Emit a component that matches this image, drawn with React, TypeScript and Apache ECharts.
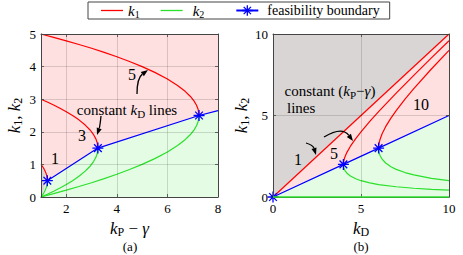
import React, { useEffect, useRef } from 'react';
import * as echarts from 'echarts';

type Pt = [number, number];

const SERIF = "'Liberation Serif', 'Times New Roman', serif";
const RED = '#ff0000';
const GREEN = '#2ae02a';
const BLUE = '#0000ff';
const PINK = '#ffe0e0';
const PALEGREEN = '#e3fce3';
const GREY = '#d9d5d5';
const FRAME = '#444444';
const GRIDLINE = 'rgba(0,0,0,0.14)';
const STAR = 'path://M5,0L5,10M0,5L10,5M1.5,1.5L8.5,8.5M1.5,8.5L8.5,1.5';
const LEGEND_LINE = 'path://M0,0H22V1.3H0Z';

// ---------- Panel (a): constant kD lines, x = kP − γ ----------
const aXTickValues = [2, 4, 6, 8];
const aK1_kD1: Pt[] = [[1, 1], [1.04, 0.958], [1.08, 0.912], [1.12, 0.861], [1.16, 0.8], [1.2, 0.724], [1.23, 0.641], [1.245, 0.571], [1.25, 0.5]];
const aK2_kD1: Pt[] = [[1, 0], [1.04, 0.042], [1.08, 0.088], [1.12, 0.139], [1.16, 0.2], [1.2, 0.276], [1.23, 0.359], [1.245, 0.429], [1.25, 0.5]];
const aK1_kD3: Pt[] = [[1, 3], [1.25, 2.914], [1.5, 2.823], [1.75, 2.725], [2, 2.618], [2.25, 2.5], [2.5, 2.366], [2.75, 2.207], [2.95, 2.048], [3.08, 1.912], [3.17, 1.783], [3.22, 1.673], [3.25, 1.5]];
const aK2_kD3: Pt[] = [[1, 0], [1.25, 0.086], [1.5, 0.177], [1.75, 0.275], [2, 0.382], [2.25, 0.5], [2.5, 0.634], [2.75, 0.793], [2.95, 0.952], [3.08, 1.088], [3.17, 1.217], [3.22, 1.327], [3.25, 1.5]];
const aK1_kD5: Pt[] = [[1, 5], [1.5, 4.898], [2, 4.791], [2.5, 4.679], [3, 4.562], [3.5, 4.436], [4, 4.303], [4.5, 4.158], [5, 4], [5.5, 3.823], [6, 3.618], [6.4, 3.422], [6.7, 3.242], [6.9, 3.092], [7.05, 2.947], [7.15, 2.816], [7.21, 2.7], [7.25, 2.5]];
const aK2_kD5: Pt[] = [[1, 0], [1.5, 0.102], [2, 0.209], [2.5, 0.321], [3, 0.438], [3.5, 0.564], [4, 0.697], [4.5, 0.842], [5, 1], [5.5, 1.177], [6, 1.382], [6.4, 1.578], [6.7, 1.758], [6.9, 1.908], [7.05, 2.053], [7.15, 2.184], [7.21, 2.3], [7.25, 2.5]];
const aBoundary: Pt[] = [[1.25, 0.5], [3.25, 1.5], [7.25, 2.5], [8, 2.65]];
const aBoundaryMarked = [true, true, true, false];
const aFillPink: Pt[] = [[1, 0], [8, 0], [8, 5], [1, 5]];
const aFillGreen: Pt[] = [[1, 0], [1.25, 0.5], [3.25, 1.5], [7.25, 2.5], [8, 2.65], [8, 0]];
const aFillGrey: Pt[] = [[1, 0], [1, 0.97], [1.05, 0.92], [1.1, 0.84], [1.15, 0.73], [1.17, 0.58], [1.16, 0.42], [1.12, 0.25], [1.06, 0.1]];

// ---------- Panel (b): constant (kP − γ) lines, x = kD ----------
const bK1_p1: Pt[] = [[0, 0], [10, 10]];
const bK2_p1: Pt[] = [[0, 0], [10, 0]];
const bK1_p5: Pt[] = [[4, 2], [4.02, 2.21], [4.08, 2.442], [4.2, 2.74], [4.4, 3.117], [4.7, 3.584], [5, 4], [5.5, 4.637], [6, 5.236], [7, 6.372], [8, 7.464], [9, 8.531], [10, 9.583]];
const bK2_p5: Pt[] = [[4, 2], [4.02, 1.81], [4.08, 1.638], [4.2, 1.46], [4.4, 1.284], [4.7, 1.116], [5, 1], [5.5, 0.863], [6, 0.764], [7, 0.628], [8, 0.536], [9, 0.469], [10, 0.417]];
const bK1_p10: Pt[] = [[6, 3], [6.02, 3.255], [6.08, 3.532], [6.2, 3.881], [6.4, 4.314], [6.7, 4.841], [7, 5.303], [7.5, 6], [8, 6.646], [9, 7.854], [10, 9]];
const bK2_p10: Pt[] = [[6, 3], [6.02, 2.765], [6.08, 2.549], [6.2, 2.319], [6.4, 2.087], [6.7, 1.859], [7, 1.697], [7.5, 1.5], [8, 1.354], [9, 1.146], [10, 1]];
const bBoundary: Pt[] = [[0, 0], [4, 2], [6, 3], [10, 5]];
const bBoundaryMarked = [true, true, true, false];
const bFillGrey: Pt[] = [[0, 0], [10, 10], [0, 10]];
const bFillPink: Pt[] = [[0, 0], [10, 10], [10, 5]];
const bFillGreen: Pt[] = [[0, 0], [10, 5], [10, 0]];

const legendNames = ['k1', 'k2', 'feasibility boundary'];

function richLabel(size: number) {
  const sub = Math.round(size * 0.7);
  return {
    i: { fontFamily: SERIF, fontStyle: 'italic', fontSize: size, lineHeight: size + 2, color: '#000' },
    n: { fontFamily: SERIF, fontSize: size, lineHeight: size + 2, color: '#000' },
    s: { fontFamily: SERIF, fontSize: sub, lineHeight: sub + 1, verticalAlign: 'bottom', color: '#000' },
  };
}
function richZr(size: number) {
  const sub = Math.round(size * 0.7);
  return {
    i: { fontFamily: SERIF, fontStyle: 'italic', fontSize: size, lineHeight: size + 4, fill: '#000' },
    n: { fontFamily: SERIF, fontSize: size, lineHeight: size + 4, fill: '#000' },
    s: { fontFamily: SERIF, fontSize: sub, lineHeight: sub + 1, verticalAlign: 'bottom', fill: '#000' },
  };
}

function lineSeries(name: string, data: Pt[], color: string, ai: number, extra: any = {}) {
  return {
    type: 'line', name, data, xAxisIndex: ai, yAxisIndex: ai,
    symbol: 'none', showSymbol: false, silent: true, z: 3,
    lineStyle: { color, width: 1.2 }, itemStyle: { color },
    ...extra,
  };
}
function boundarySeries(data: Pt[], marked: boolean[], ai: number) {
  return {
    type: 'line', name: 'feasibility boundary', xAxisIndex: ai, yAxisIndex: ai,
    data: data.map((p, i) => (marked[i] ? p : { value: p, symbol: 'none' })),
    symbol: STAR, symbolSize: 11, showSymbol: true, silent: true, z: 4,
    lineStyle: { color: BLUE, width: 1.2 },
    itemStyle: { color: BLUE, borderColor: BLUE, borderWidth: 1.3 },
  };
}
function fillSeries(poly: Pt[], color: string, ai: number) {
  return {
    type: 'custom', xAxisIndex: ai, yAxisIndex: ai, silent: true, z: 1,
    data: [poly[0]],
    renderItem: (_p: any, api: any) => ({
      type: 'polygon',
      shape: { points: poly.map((q) => api.coord(q)) },
      style: { fill: color },
    }),
  };
}

function xAxis(grid: number, pos: 'bottom' | 'top', min: number, max: number, opts: any) {
  const main = pos === 'bottom';
  return {
    type: 'value', gridIndex: grid, position: pos, min, max, z: 10,
    interval: opts.interval,
    axisLine: { show: true, onZero: false, lineStyle: { color: FRAME, width: 1 } },
    axisTick: { show: true, inside: true, length: 3, lineStyle: { color: FRAME, width: 0.8 }, customValues: opts.custom },
    axisLabel: { show: main, color: '#000', fontFamily: SERIF, fontSize: 13, margin: 5, customValues: opts.custom },
    splitLine: { show: main, lineStyle: { color: GRIDLINE, width: 1 } },
    name: main ? opts.name : undefined,
    nameLocation: 'middle', nameGap: 20,
    nameTextStyle: { fontFamily: SERIF, fontSize: 17, rich: richLabel(17) },
  };
}
function yAxis(grid: number, pos: 'left' | 'right', min: number, max: number, interval: number, opts: any) {
  const main = pos === 'left';
  return {
    type: 'value', gridIndex: grid, position: pos, min, max, interval, z: 10,
    axisLine: { show: true, onZero: false, lineStyle: { color: FRAME, width: 1 } },
    axisTick: { show: true, inside: true, length: 3, lineStyle: { color: FRAME, width: 0.8 } },
    axisLabel: { show: main, color: '#000', fontFamily: SERIF, fontSize: 13, margin: 5 },
    splitLine: { show: main, lineStyle: { color: GRIDLINE, width: 1 } },
    name: main ? '{i|k}{s|1}{n|, }{i|k}{s|2}' : undefined,
    nameLocation: 'middle', nameRotate: 90, nameGap: opts.nameGap,
    nameTextStyle: { fontFamily: SERIF, fontSize: 17, rich: richLabel(17) },
  };
}

function txt(x: number, y: number, text: string, size: number, align = 'center') {
  return {
    type: 'text', x, y, silent: true, z: 50,
    style: {
      text, fontFamily: SERIF, fontSize: size, fill: '#000',
      align, verticalAlign: 'middle', textAlign: align, textVerticalAlign: 'middle',
      rich: richZr(size),
    },
  };
}
function arrow(x1: number, y1: number, cx: number, cy: number, x2: number, y2: number) {
  const dx = x2 - cx, dy = y2 - cy;
  const L = Math.hypot(dx, dy) || 1;
  const ux = dx / L, uy = dy / L;
  const hl = 7, hw = 2.6;
  const bx = x2 - ux * hl, by = y2 - uy * hl;
  return [
    { type: 'bezierCurve', silent: true, z: 50, shape: { x1, y1, x2: bx, y2: by, cpx1: cx, cpy1: cy }, style: { stroke: '#000', lineWidth: 1.3, fill: 'none' } },
    { type: 'polygon', silent: true, z: 50, shape: { points: [[x2, y2], [bx - uy * hw, by + ux * hw], [bx + uy * hw, by - ux * hw]] }, style: { fill: '#000' } },
  ];
}

export default function App() {
  const ref = useRef<HTMLDivElement>(null);
  useEffect(() => {
    if (!ref.current) return;
    const chart = echarts.init(ref.current, undefined, { renderer: 'svg' });
    const option: any = {
      animation: false,
      backgroundColor: '#ffffff',
      textStyle: { fontFamily: SERIF },
      grid: [
        { left: 41, top: 34, width: 177, height: 163 },
        { left: 273, top: 34, width: 176, height: 163 },
      ],
      xAxis: [
        xAxis(0, 'bottom', 1, 8, { custom: aXTickValues, name: '{i|k}{s|P}{n| − }{i|γ}' }),
        xAxis(0, 'top', 1, 8, { custom: aXTickValues }),
        xAxis(1, 'bottom', 0, 10, { interval: 5, name: '{i|k}{s|D}' }),
        xAxis(1, 'top', 0, 10, { interval: 5 }),
      ],
      yAxis: [
        yAxis(0, 'left', 0, 5, 1, { nameGap: 17 }),
        yAxis(0, 'right', 0, 5, 1, {}),
        yAxis(1, 'left', 0, 10, 5, { nameGap: 20 }),
        yAxis(1, 'right', 0, 10, 5, {}),
      ],
      legend: {
        left: 88, top: 2, orient: 'horizontal', itemGap: 0, itemWidth: 22, itemHeight: 13,
        padding: [1, 10, 0, 13], borderColor: FRAME, borderWidth: 1, backgroundColor: '#fff',
        selectedMode: false,
        itemStyle: { borderWidth: 0 },
        data: [
          { name: legendNames[0], icon: LEGEND_LINE },
          { name: legendNames[1], icon: LEGEND_LINE },
          { name: legendNames[2], itemStyle: { borderWidth: 1.3 } },
        ],
        formatter: (name: string) =>
          name === 'k1' ? '{k|k}{s1|1}' : name === 'k2' ? '{k2|k}{s2|2}' : '{f|feasibility boundary}',
        textStyle: {
          fontFamily: SERIF, fontSize: 14, color: '#000',
          rich: {
            k: { fontFamily: SERIF, fontStyle: 'italic', fontSize: 15, lineHeight: 17 },
            k2: { fontFamily: SERIF, fontStyle: 'italic', fontSize: 15, lineHeight: 17, padding: [0, 0, 0, 5] },
            s1: { fontFamily: SERIF, fontSize: 10, lineHeight: 11, verticalAlign: 'bottom', padding: [0, 21, 0, 0] },
            s2: { fontFamily: SERIF, fontSize: 10, lineHeight: 11, verticalAlign: 'bottom', padding: [0, 31, 0, 0] },
            f: { fontFamily: SERIF, fontSize: 14, lineHeight: 17, padding: [0, 0, 0, 4] },
          },
        },
      },
      series: [
        fillSeries(aFillPink, PINK, 0),
        fillSeries(aFillGreen, PALEGREEN, 0),
        fillSeries(aFillGrey, GREY, 0),
        lineSeries('k2', aK2_kD1, GREEN, 0),
        lineSeries('k2', aK2_kD3, GREEN, 0),
        lineSeries('k2', aK2_kD5, GREEN, 0),
        lineSeries('k1', aK1_kD1, RED, 0),
        lineSeries('k1', aK1_kD3, RED, 0),
        lineSeries('k1', aK1_kD5, RED, 0),
        boundarySeries(aBoundary, aBoundaryMarked, 0),

        fillSeries(bFillGrey, GREY, 2),
        fillSeries(bFillPink, PINK, 2),
        fillSeries(bFillGreen, PALEGREEN, 2),
        lineSeries('k2', bK2_p1, GREEN, 2, { z: 12, clip: false, lineStyle: { color: GREEN, width: 1.6 } }),
        lineSeries('k2', bK2_p5, GREEN, 2),
        lineSeries('k2', bK2_p10, GREEN, 2),
        lineSeries('k1', bK1_p1, RED, 2),
        lineSeries('k1', bK1_p5, RED, 2),
        lineSeries('k1', bK1_p10, RED, 2),
        boundarySeries(bBoundary, bBoundaryMarked, 2),
      ],
      graphic: [
        txt(132, 74, '5', 16),
        txt(82, 135, '3', 16),
        txt(55, 158, '1', 16),
        txt(127, 110, '{n|constant }{i|k}{s|D}{n| lines}', 15),
        ...arrow(137, 94, 137, 78, 148, 70),
        ...arrow(101, 116, 100, 126, 97, 135),
        txt(330, 91, '{n|constant (}{i|k}{s|P}{n|−}{i|γ}{n|)}', 15),
        txt(287, 108, 'lines', 15, 'left'),
        txt(421, 104, '10', 16),
        txt(334, 153, '5', 16),
        txt(298, 159, '1', 16),
        ...arrow(306, 143, 313, 145, 316, 155),
        ...arrow(324, 137, 342, 126, 353, 141),
        txt(130, 246, '(a)', 13),
        txt(361, 246, '(b)', 13),
      ],
    };
    chart.setOption(option);
    return () => chart.dispose();
  }, []);
  return <div ref={ref} style={{ position: 'absolute', left: 0, top: 0, width: 463, height: 255, background: '#fff' }} />;
}
